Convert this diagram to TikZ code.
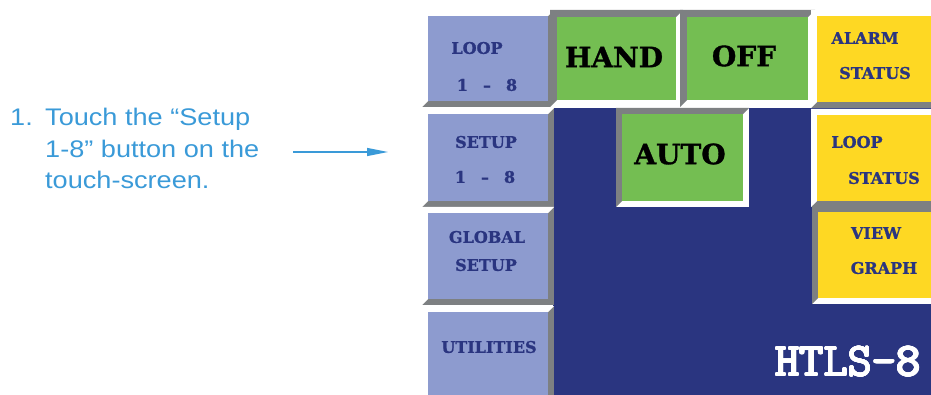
\documentclass[tikz,border=0pt]{standalone}
\usepackage{fontspec}
\usepackage[copies]{contour}
\setmainfont{Liberation Sans}
\newfontfamily\notefont[FakeStretch=1.13]{Liberation Sans}
\newfontfamily\btnfont[BoldFeatures={FakeBold=1.2}]{DejaVu Serif}
\usetikzlibrary{arrows.meta}
\contourlength{0.8pt}

\definecolor{navy}{HTML}{2A3580}
\definecolor{lilac}{HTML}{8D9BCF}
\definecolor{leaf}{HTML}{74BE52}
\definecolor{sun}{HTML}{FED823}
\definecolor{bevgray}{HTML}{7D8082}
\definecolor{stepblue}{HTML}{3A9AD8}

% buton cu margine teșită: nume, x1, y1, x2, y2, față, stânga-sus, dreapta-jos, lățime
\newcommand{\panel}[9]{%
  \fill[#8] (#2,#3) rectangle (#4,#5);
  \fill[#7] (#2,#5) -- (#2,#3) -- (#4,#3) -- (#4-#9,#3+#9) -- (#2+#9,#5-#9) -- cycle;
  \fill[#6] (#2+#9,#3+#9) rectangle (#4-#9,#5-#9);
  \coordinate (#1) at ({(#2+#4)/2},{(#3+#5)/2});
}
\newcommand{\oneeight}{1\hspace{15pt}–\hspace{15pt}8}

\begin{document}
\begin{tikzpicture}[x=1pt,y=-1pt,
    lbl/.style={text=navy,font=\btnfont\bfseries\fontsize{16}{18}\selectfont,inner sep=0pt},
    big/.style={text=black,font=\btnfont\bfseries\fontsize{28}{30}\selectfont,inner sep=0pt},
    brand/.style={text=white,font=\ttfamily\fontsize{47}{49}\selectfont,inner sep=0pt},
    note/.style={text=stepblue,font=\notefont\fontsize{24}{31.5}\selectfont,inner sep=0pt},
    pointer/.style={draw=stepblue,line width=1.2pt,-{Triangle[length=21pt,width=8pt]}}]
  \useasboundingbox (0,0) rectangle (931,395);

  % ecranul
  \fill[navy] (553,108) rectangle (931,395);

  % butoanele din stânga
  \panel{loop}{422}{10}{554}{107}{lilac}{white}{bevgray}{6}
  \panel{setup}{422}{108}{554}{207}{lilac}{white}{bevgray}{6}
  \panel{global}{422}{207}{554}{305}{lilac}{white}{bevgray}{6}
  \panel{util}{422}{306}{554}{402}{lilac}{white}{bevgray}{6}

  % modurile
  \panel{hand}{550}{10}{683}{107}{leaf}{bevgray}{white}{7}
  \panel{off}{680}{10}{815}{107}{leaf}{bevgray}{white}{7}
  \panel{auto}{616}{108}{749}{207}{leaf}{bevgray}{white}{6}

  % butoanele din dreapta
  \panel{alarm}{811}{10}{937}{108}{sun}{white}{bevgray}{6}
  \panel{loopst}{811}{109}{937}{207}{sun}{white}{bevgray}{6}
  \panel{graph}{812}{206}{937}{304}{sun}{bevgray}{white}{6}

  % etichete
  \node[lbl] (loopA) at (477,48) {LOOP};
  \node[lbl] (loopB) at (487,85) {\oneeight};
  \node[lbl] (setupA) at (486,142) {SETUP};
  \node[lbl] (setupB) at (485,177) {\oneeight};
  \node[lbl] (globalA) at (487,237) {GLOBAL};
  \node[lbl] (globalB) at (486,265) {SETUP};
  \node[lbl] (utilA) at (489,347) {UTILITIES};
  \node[big] (handA) at (614,57) {HAND};
  \node[big] (offA) at (744,56) {OFF};
  \node[big] (autoA) at (680,154) {AUTO};
  \node[lbl] (alarmA) at (865,38) {ALARM};
  \node[lbl] (alarmB) at (875,73) {STATUS};
  \node[lbl] (loopstA) at (857,142) {LOOP};
  \node[lbl] (loopstB) at (884,178) {STATUS};
  \node[lbl] (graphA) at (876,233) {VIEW};
  \node[lbl] (graphB) at (884,268) {GRAPH};
  \node[brand] (model) at (848,362) {\contour{white}{HTLS-8}};

  % instrucțiunea
  \node[note,anchor=base west] (step1) at (10,126)
    {\begin{tabular}[t]{@{}p{35pt}@{}l@{}}1. & Touch the “Setup\\ & 1-8” button on the\\ & touch-screen.\end{tabular}};
  \coordinate (tail) at (293,152);
  \coordinate (tip) at (388,152);
  \draw[pointer] (tail) -- (tip);
\end{tikzpicture}
\end{document}
